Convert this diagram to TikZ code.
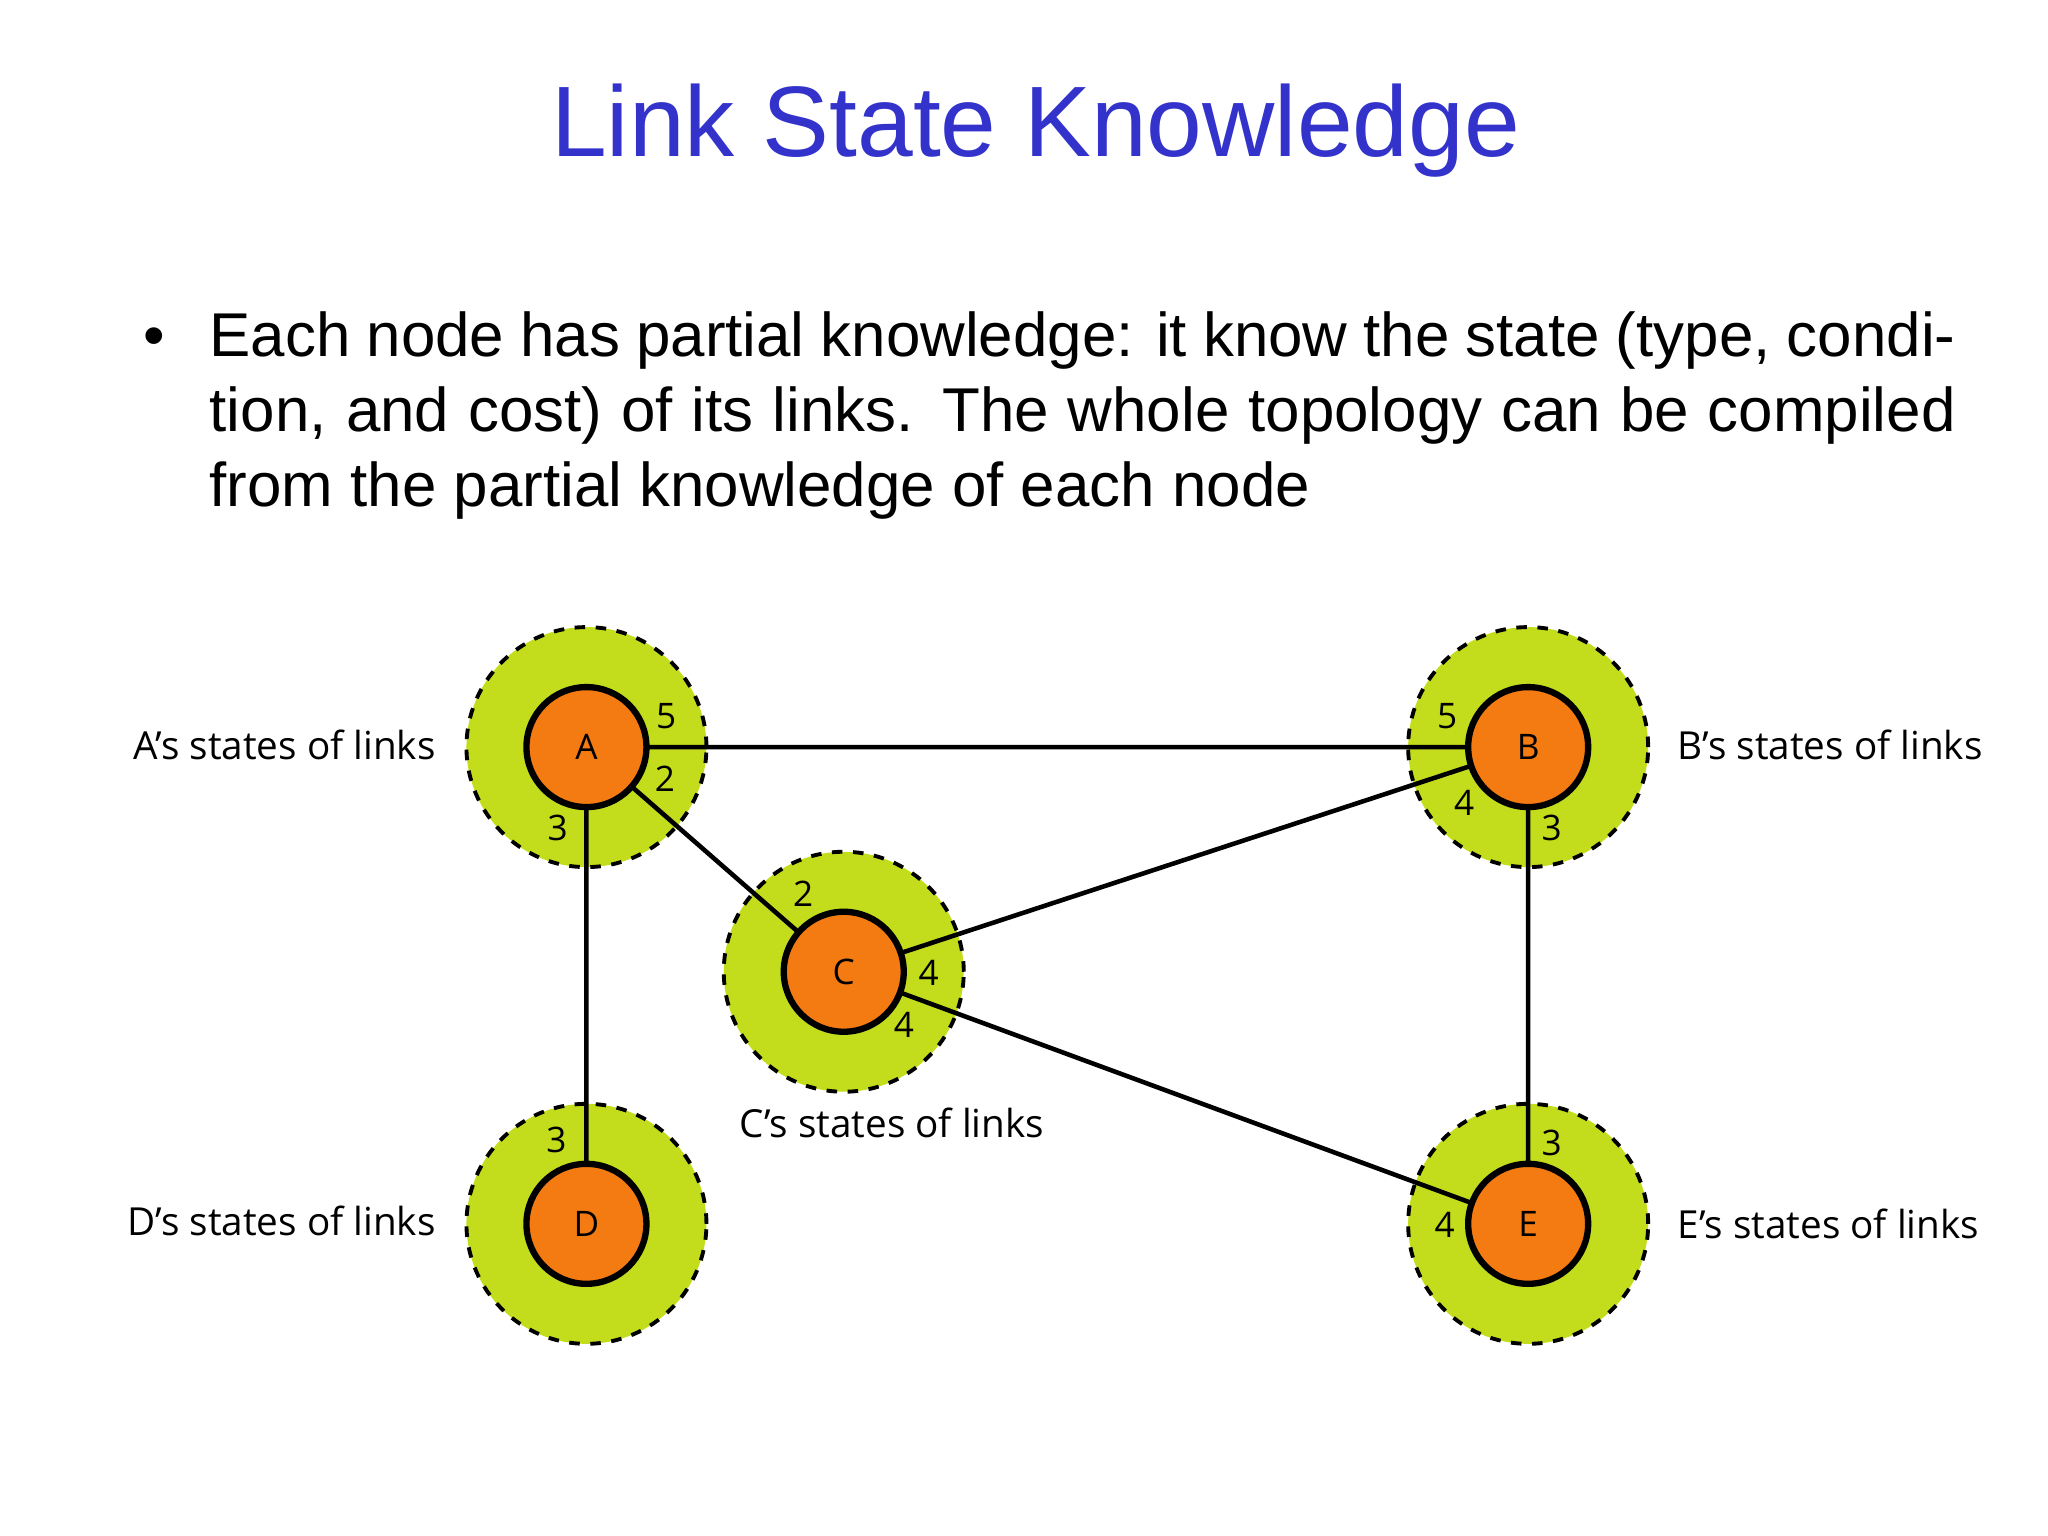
\documentclass[tikz,border=0pt]{standalone}
\usepackage{fontspec}
\setmainfont{Liberation Sans}
\newfontfamily\lblfont{Open Sans}
\definecolor{ttl}{HTML}{3333CC}
\definecolor{lg}{HTML}{C3DC1B}
\definecolor{org}{HTML}{F47A12}
\begin{document}
\begin{tikzpicture}[x=0.013061cm,y=-0.013061cm,
  outer/.style={circle,fill=lg,draw=black,dashed,line width=1.1pt,minimum size=184\pgflinewidth*0+2.4cm},
  inner/.style={circle,fill=org,draw=black,line width=1.8pt,minimum size=1.2cm,font=\lblfont\fontsize{10}{12}\selectfont},
  edge/.style={line width=1.3pt},
  wt/.style={font=\lblfont\fontsize{10}{12}\selectfont},
  st/.style={font=\lblfont\fontsize{11}{13}\selectfont}]
\useasboundingbox (0,0) rectangle (1568,1176);
\node[text=ttl,font=\fontsize{28.5}{34}\selectfont] (title) at (793,100) {Link State Knowledge};
\node (bul) at (118,262) {\fontsize{17.5}{21}\selectfont •};
\node[anchor=north west,inner sep=0,text width=17.46cm,align=justify,font=\fontsize{17.6}{21.3}\selectfont] (body) at (160,238)
 {Each node has partial knowledge: it know the state (type, condition, and cost) of its links. The whole topology can be compiled from the partial knowledge of each node};
\foreach \n/\x/\y in {A/449/572,B/1170/572,C/646/744,D/449/937,E/1170/937}{
  \node[outer] (o\n) at (\x,\y) {};
}
\foreach \n/\x/\y in {A/449/572,B/1170/572,C/646/744,D/449/937,E/1170/937}{
  \coordinate (c\n) at (\x,\y);
}
\draw[edge] (cA)--(cB) (cA)--(cC) (cA)--(cD) (cC)--(cB) (cC)--(cE) (cB)--(cE);
\foreach \n in {A,B,C,D,E}{ \node[inner] (\n) at (c\n) {\n}; }
\node[wt] (a5) at (510,548) {5}; \node[wt] (a2) at (509,596) {2}; \node[wt] (a3) at (427,634) {3};
\node[wt] (b5) at (1108,548) {5}; \node[wt] (b4) at (1121,615) {4}; \node[wt] (b3) at (1188,634) {3};
\node[wt] (c2) at (615,684) {2}; \node[wt] (c4) at (711,745) {4}; \node[wt] (c4b) at (692,785) {4};
\node[wt] (d3) at (426,873) {3};
\node[wt] (e3) at (1188,875) {3}; \node[wt] (e4) at (1106,938) {4};
\node[st,anchor=east] (sA) at (343,570) {A’s states of links};
\node[st,anchor=west] (sB) at (1275,570) {B’s states of links};
\node[st] (sC) at (683,860) {C’s states of links};
\node[st,anchor=east] (sD) at (343,935) {D’s states of links};
\node[st,anchor=west] (sE) at (1275,937) {E’s states of links};
\end{tikzpicture}
\end{document}
